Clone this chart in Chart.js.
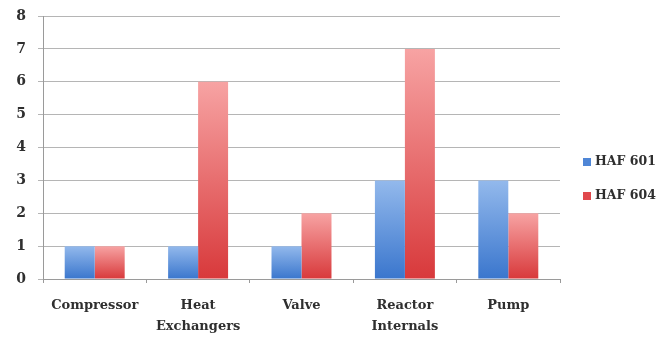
<!DOCTYPE html>
<html>
<head>
<meta charset="utf-8">
<script src="https://cdn.jsdelivr.net/npm/chart.js@4/dist/chart.umd.min.js"></script>
<style>
  html, body { margin: 0; padding: 0; background: #ffffff; }
  #wrap { width: 664px; height: 341px; position: relative; }
</style>
</head>
<body>
<div id="wrap"><canvas id="c" width="664" height="341"></canvas></div>
<script>
// Equipment categories and failure counts per unit
const categories = ['Compressor', ['Heat', 'Exchangers'], 'Valve', ['Reactor', 'Internals'], 'Pump'];
const haf601 = [1, 1, 1, 3, 3];
const haf604 = [1, 6, 2, 7, 2];
const yTicks = [0, 1, 2, 3, 4, 5, 6, 7, 8];

const seriesNames = ['HAF 601', 'HAF 604'];
const swatch = ['#4f86d6', '#e0484c'];
const fontFamily = '"DejaVu Serif", "Liberation Serif", serif';
const textColor = '#2f2f2f';

// Vertical gradient running from each bar's top down to its base
function barGradient(top, bottom) {
  return function (ctx) {
    const chart = ctx.chart;
    if (!chart.chartArea || !chart.scales.y || ctx.type !== 'data') return bottom;
    const y = chart.scales.y;
    const v = ctx.raw;
    const yTop = y.getPixelForValue(v);
    const yBase = y.getPixelForValue(0);
    if (!isFinite(yTop) || yTop === yBase) return bottom;
    const g = chart.ctx.createLinearGradient(0, yTop, 0, yBase);
    g.addColorStop(0, top);
    g.addColorStop(1, bottom);
    return g;
  };
}

// Legend drawn to the right of the plot area
const sideLegend = {
  id: 'sideLegend',
  afterDraw(chart) {
    const ctx = chart.ctx;
    const area = chart.chartArea;
    const x = area.right + 23;
    const yStart = 162;
    ctx.save();
    ctx.font = 'bold 12.5px ' + fontFamily;
    ctx.textBaseline = 'middle';
    ctx.textAlign = 'left';
    seriesNames.forEach((name, i) => {
      const y = yStart + i * 34;
      ctx.fillStyle = swatch[i];
      ctx.fillRect(x, y - 4, 8, 8);
      ctx.fillStyle = textColor;
      ctx.fillText(name, x + 12, y);
    });
    ctx.restore();
  }
};

new Chart(document.getElementById('c'), {
  type: 'bar',
  data: {
    labels: categories,
    datasets: [
      {
        label: seriesNames[0],
        data: haf601,
        backgroundColor: barGradient('#93b9ec', '#3a76cd'),
        borderWidth: 0,
        barPercentage: 1.0,
        categoryPercentage: 0.58
      },
      {
        label: seriesNames[1],
        data: haf604,
        backgroundColor: barGradient('#f7a3a3', '#d8393b'),
        borderWidth: 0,
        barPercentage: 1.0,
        categoryPercentage: 0.58
      }
    ]
  },
  options: {
    responsive: false,
    animation: false,
    devicePixelRatio: 1,
    layout: { padding: { left: 0, right: 104, top: 16, bottom: 0 } },
    plugins: {
      legend: { display: false },
      tooltip: { enabled: false }
    },
    scales: {
      x: {
        afterFit(axis) { axis.height = 62; },
        grid: {
          display: true,
          drawOnChartArea: false,
          drawTicks: true,
          tickLength: 4,
          color: '#9a9a9a',
          offset: true
        },
        border: { display: true, color: '#9a9a9a', width: 1 },
        ticks: {
          color: textColor,
          font: { family: fontFamily, size: 13, weight: 'bold', lineHeight: 1.6 },
          padding: 12,
          maxRotation: 0,
          autoSkip: false
        }
      },
      y: {
        min: 0,
        max: 8,
        afterFit(axis) {
          axis.width = 43;
          axis.paddingTop = 0;
          axis.paddingBottom = 0;
        },
        afterBuildTicks(axis) { axis.ticks = yTicks.map(v => ({ value: v })); },
        grid: {
          color: '#b5b5b5',
          lineWidth: 1,
          drawTicks: true,
          tickLength: 5
        },
        border: { display: true, color: '#9a9a9a', width: 1 },
        ticks: {
          color: textColor,
          font: { family: fontFamily, size: 14, weight: 'bold' },
          padding: 12
        }
      }
    }
  },
  plugins: [sideLegend]
});
</script>
</body>
</html>
